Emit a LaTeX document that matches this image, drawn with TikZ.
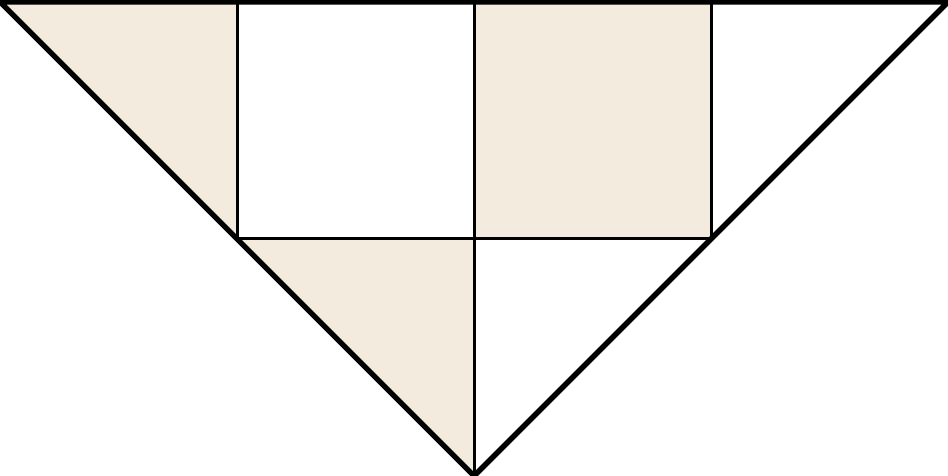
\documentclass[tikz,border=0pt]{standalone}
\usetikzlibrary{calc}
\definecolor{tileFill}{RGB}{242,235,222}

\begin{document}
\begin{tikzpicture}[
  x=2.37cm, y=2.37cm,
  edge/.style={draw=black, line width=1.55pt, line join=miter},
  seam/.style={draw=black, line width=0.85pt},
  tile/.style={fill=tileFill},
]
\useasboundingbox (0,0) rectangle (4,2.008);

% ── corners of the triangle ──────────────────────────────────────────────────
\coordinate (tl) at (0,2);
\coordinate (tr) at (4,2);
\coordinate (apex) at (2,0);

% ── shaded tiles ─────────────────────────────────────────────────────────────
\fill[tile] (tl) -- (1,2) -- (1,1) -- cycle;
\fill[tile] (2,2) rectangle (3,1);
\fill[tile] (1,1) -- (2,1) -- (apex) -- cycle;

% ── inner seams ──────────────────────────────────────────────────────────────
\foreach \x in {1,3}{ \draw[seam] (\x,2) -- (\x,1); }
\draw[seam] (2,2) -- (apex);
\draw[seam] (1,1) -- (3,1);

% ── outline ──────────────────────────────────────────────────────────────────
\draw[edge] (tl) -- (tr) -- (apex) -- cycle;

\end{tikzpicture}
\end{document}
